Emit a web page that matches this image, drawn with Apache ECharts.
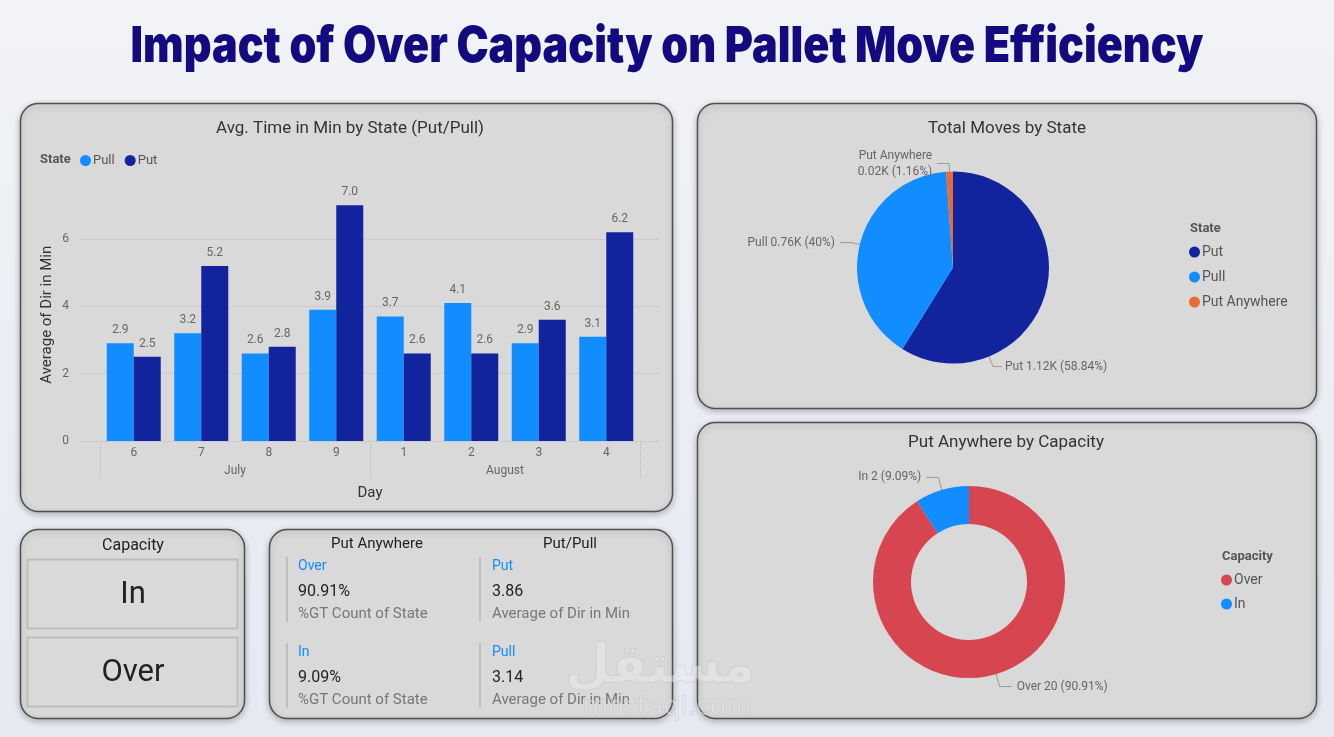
<!DOCTYPE html>
<html>
<head>
<meta charset="utf-8">
<title>Impact of Over Capacity on Pallet Move Efficiency</title>
<script src="https://cdn.jsdelivr.net/npm/echarts@6/dist/echarts.min.js"></script>
<style>
html, body { margin: 0; padding: 0; background: #eef1f5; }
#main { width: 1334px; height: 737px; }
</style>
</head>
<body>
<div id="main"></div>
<script>
// bar chart: avg minutes per day, split by state
var days = ['6', '7', '8', '9', '1', '2', '3', '4'];
var months = ['July', 'August'];
var pullAvg = [2.9, 3.2, 2.6, 3.9, 3.7, 4.1, 2.9, 3.1];
var putAvg = [2.5, 5.2, 2.8, 7.0, 2.6, 2.6, 3.6, 6.2];
var yMin = 0, yMax = 7.5, yStep = 2;

// pie: total moves by state
var stateNames = ['Put', 'Pull', 'Put Anywhere'];
var stateMoves = [1118, 760, 22];

// donut: put anywhere by capacity
var capacityNames = ['Over', 'In'];
var capacityCounts = [20, 2];

// slicer + cards
var slicerItems = ['In', 'Over'];
var putPullNames = ['Put', 'Pull'];
var putPullAvg = [3.86, 3.14];

var FONT = 'Roboto, "Noto Sans", sans-serif';
var TITLE = 'Impact of Over Capacity on Pallet Move Efficiency';
var TITLE_FONT = '900 50px Inter, "DejaVu Sans", sans-serif';
var colors = { Put: '#12239E', Pull: '#118DFF', 'Put Anywhere': '#E66C37', Over: '#D64550', In: '#118DFF' };

function pct(v) {
    return parseFloat(v.toFixed(2)) + '%';
}

// squeeze the heavy title font to the width of the original banner
function titleScale(target) {
    var ctx = document.createElement('canvas').getContext('2d');
    ctx.font = TITLE_FONT;
    return target / ctx.measureText(TITLE).width;
}

function panel(x, y, w, h) {
    return {
        type: 'rect', z: 0,
        shape: { x: x, y: y, width: w, height: h, r: 18 },
        style: { fill: '#d9d9d9', stroke: '#4f4f4f', lineWidth: 1.5,
                 shadowBlur: 6, shadowOffsetY: 2, shadowColor: 'rgba(0,0,0,0.25)' }
    };
}

function txt(x, y, s, size, color, align, weight) {
    return {
        type: 'text', z: 5, x: x, y: y,
        style: { text: s, fill: color, align: align || 'center', verticalAlign: 'middle',
                 font: (weight || 'normal') + ' ' + size + 'px ' + FONT }
    };
}

function vbar(x, y1, y2) {
    return { type: 'line', z: 5, shape: { x1: x, y1: y1, x2: x, y2: y2 },
             style: { stroke: '#bfbfbf', lineWidth: 2 } };
}

function buildGraphic() {
    var g = [];
    g.push({
        type: 'text', z: 5, x: 667, y: 47, scaleX: titleScale(1073),
        style: { text: TITLE, fill: '#120a7e', align: 'center', verticalAlign: 'middle', font: TITLE_FONT }
    });
    g.push(panel(20.5, 103.5, 652, 408));
    g.push(panel(697.5, 103.5, 619, 305));
    g.push(panel(697.5, 422.5, 619, 296));
    g.push(panel(20.5, 529.5, 224, 189));
    g.push(panel(269.5, 529.5, 403, 189));

    g.push(txt(350, 129, 'Avg. Time in Min by State (Put/Pull)', 17, '#333'));
    g.push(txt(40, 160, 'State', 13, '#555', 'left', 'bold'));
    g.push(txt(1007, 129, 'Total Moves by State', 17, '#333'));
    g.push(txt(1190, 229, 'State', 13, '#555', 'left', 'bold'));
    g.push(txt(1006, 443, 'Put Anywhere by Capacity', 17, '#333'));
    g.push(txt(1222, 557, 'Capacity', 13, '#555', 'left', 'bold'));

    // capacity slicer
    g.push(txt(133, 546, 'Capacity', 16, '#222'));
    for (var i = 0; i < slicerItems.length; i++) {
        var by = 559.5 + i * 78;
        g.push({ type: 'rect', z: 5, shape: { x: 27.5, y: by, width: 210, height: 69 },
                 style: { fill: 'none', stroke: '#bdbdbd', lineWidth: 2 } });
        g.push(txt(133, by + 36, slicerItems[i], 31, '#222'));
    }

    // multi-row cards
    var total = capacityCounts.reduce(function (a, b) { return a + b; }, 0);
    g.push(txt(377, 544, 'Put Anywhere', 15, '#222'));
    g.push(txt(570, 544, 'Put/Pull', 15, '#222'));
    for (var k = 0; k < 2; k++) {
        var oy = k * 86;
        g.push(vbar(287, 557 + oy, 622 + oy));
        g.push(txt(298, 566 + oy, capacityNames[k], 14, '#118DFF', 'left'));
        g.push(txt(298, 592 + oy, pct(capacityCounts[k] / total * 100), 16, '#222', 'left'));
        g.push(txt(298, 614 + oy, '%GT Count of State', 15, '#777', 'left'));
        g.push(vbar(480, 557 + oy, 622 + oy));
        g.push(txt(492, 566 + oy, putPullNames[k], 14, '#118DFF', 'left'));
        g.push(txt(492, 592 + oy, putPullAvg[k].toFixed(2), 16, '#222', 'left'));
        g.push(txt(492, 614 + oy, 'Average of Dir in Min', 15, '#777', 'left'));
    }

    // watermark
    g.push({ type: 'text', z: 20, x: 660, y: 668,
             style: { text: 'مستقل', fill: 'rgba(238,238,238,0.45)', stroke: 'rgba(150,150,150,0.25)', lineWidth: 1,
                      align: 'center', verticalAlign: 'middle', font: 'bold 52px "DejaVu Sans", sans-serif' } });
    g.push({ type: 'text', z: 20, x: 667, y: 708,
             style: { text: 'mostaql.com', fill: 'rgba(238,238,238,0.45)', stroke: 'rgba(150,150,150,0.25)', lineWidth: 1,
                      align: 'center', verticalAlign: 'middle', font: '26px "DejaVu Sans", sans-serif' } });
    return g;
}

function pieLabel(p) {
    var v = (p.value / 1000).toFixed(2) + 'K';
    var head = p.percent < 5 && p.name.indexOf(' ') > 0 ? p.name + '\n' : p.name + ' ';
    return head + v + ' (' + pct(p.percent) + ')';
}

// Power BI drops the big slice's label near the bottom of the pie
function pieLayout(params) {
    if (params.dataIndex !== 0) return {};
    var cx = 953, cy = 267.5, r = 96, a = 158 * Math.PI / 180;
    var sx = cx + r * Math.sin(a), sy = cy - r * Math.cos(a);
    return {
        x: sx + 16, y: sy + 10, align: 'left', verticalAlign: 'middle',
        labelLinePoints: [[sx, sy], [sx + 4, sy + 10], [sx + 13, sy + 10]]
    };
}

var chart = echarts.init(document.getElementById('main'));
var option = {
    backgroundColor: { type: 'linear', x: 0, y: 0, x2: 0, y2: 1,
        colorStops: [{ offset: 0, color: '#f1f3f6' }, { offset: 1, color: '#e5e9f2' }] },
    animation: false,
    textStyle: { fontFamily: FONT },
    graphic: buildGraphic(),
    legend: [
        { data: ['Pull', 'Put'], left: 80, top: 154, padding: 0, icon: 'circle',
          itemWidth: 11, itemHeight: 11, itemGap: 10, selectedMode: false,
          textStyle: { fontSize: 13, color: '#555', padding: [0, 0, 0, -3] } },
        { data: stateNames, orient: 'vertical', left: 1189, top: 245, padding: 0, icon: 'circle',
          itemWidth: 11, itemHeight: 11, itemGap: 11, selectedMode: false,
          textStyle: { fontSize: 14, color: '#555', padding: [0, 0, 0, -3] } },
        { data: capacityNames, orient: 'vertical', left: 1221, top: 573, padding: 0, icon: 'circle',
          itemWidth: 11, itemHeight: 11, itemGap: 10, selectedMode: false,
          textStyle: { fontSize: 14, color: '#555', padding: [0, 0, 0, -3] } }
    ],
    grid: [
        { left: 100, top: 188.5, width: 540, height: 252.5 },
        { left: 80, top: 188.5, width: 580, height: 252.5 }
    ],
    xAxis: [
        { type: 'category', gridIndex: 0, data: days, position: 'bottom',
          axisLine: { show: false }, axisTick: { show: false },
          axisLabel: { margin: 6, fontSize: 12, color: '#666' },
          name: 'Day', nameLocation: 'middle', nameGap: 45,
          nameTextStyle: { fontSize: 15, color: '#333' } },
        { type: 'category', gridIndex: 0, data: months, position: 'bottom',
          axisLine: { show: false },
          axisTick: { show: true, length: 38, lineStyle: { type: 'dotted', color: '#bbb' } },
          axisLabel: { margin: 24, fontSize: 12, color: '#666' } },
        { type: 'category', gridIndex: 1, data: [''], show: false }
    ],
    yAxis: [
        { type: 'value', gridIndex: 0, min: yMin, max: yMax, interval: yStep, show: false },
        { type: 'value', gridIndex: 1, min: yMin, max: yMax, interval: yStep,
          axisLine: { show: false }, axisTick: { show: false },
          axisLabel: { margin: 11, fontSize: 12, color: '#666', showMaxLabel: false },
          splitLine: { show: true, showMaxLine: false, lineStyle: { type: 'dotted', color: '#bdbdbd' } },
          name: 'Average of Dir in Min', nameLocation: 'middle', nameRotate: 90, nameGap: 25,
          nameTextStyle: { fontSize: 15, color: '#333' } }
    ],
    series: [
        { name: 'Pull', type: 'bar', xAxisIndex: 0, yAxisIndex: 0, data: pullAvg,
          itemStyle: { color: colors.Pull }, barGap: '0%', barCategoryGap: '20%',
          label: { show: true, position: 'top', distance: 7, fontSize: 12, color: '#666',
                   formatter: function (p) { return p.value.toFixed(1); } } },
        { name: 'Put', type: 'bar', xAxisIndex: 0, yAxisIndex: 0, data: putAvg,
          itemStyle: { color: colors.Put }, barGap: '0%', barCategoryGap: '20%',
          label: { show: true, position: 'top', distance: 7, fontSize: 12, color: '#666',
                   formatter: function (p) { return p.value.toFixed(1); } } },
        { name: 'Total Moves', type: 'pie', center: [953, 267.5], radius: 96,
          startAngle: 90, clockwise: true,
          data: stateNames.map(function (n, i) {
              return { name: n, value: stateMoves[i], itemStyle: { color: colors[n] } };
          }),
          label: { fontSize: 12, color: '#666', formatter: pieLabel, lineHeight: 16 },
          labelLine: { length: 8, length2: 12, lineStyle: { color: '#999', width: 1 } },
          labelLayout: pieLayout },
        { name: 'By Capacity', type: 'pie', center: [969, 582], radius: [58, 96],
          startAngle: 90, clockwise: true,
          data: capacityNames.map(function (n, i) {
              return { name: n, value: capacityCounts[i], itemStyle: { color: colors[n] } };
          }),
          label: { fontSize: 12, color: '#666', lineHeight: 15,
                   formatter: function (p) { return p.name + ' ' + p.value + ' (' + pct(p.percent) + ')'; } },
          labelLine: { length: 13, length2: 12, lineStyle: { color: '#999', width: 1 } } }
    ]
};
chart.setOption(option);
</script>
</body>
</html>
